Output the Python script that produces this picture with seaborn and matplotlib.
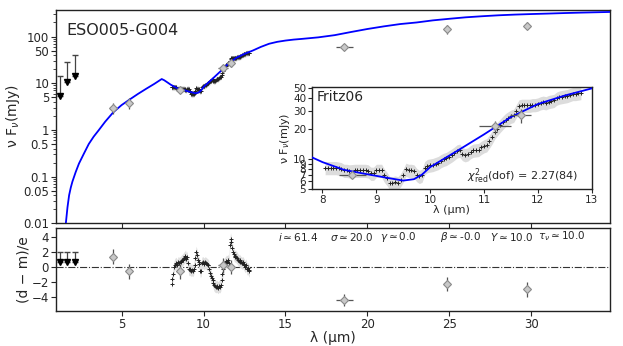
import seaborn as sns
import matplotlib.pyplot as plt
import matplotlib.ticker as mticker
import pandas as pd
import numpy as np

# --- model SED (blue curve) ---
model_lam = [1.6, 1.7, 1.8, 1.9, 2.0, 2.2, 2.4, 2.7, 3.0, 3.3, 3.6, 4.0, 4.5, 5.0, 5.5, 6.0,
             6.5, 7.0, 7.45, 7.6, 7.8, 8.0, 8.4, 8.8, 9.2, 9.5, 9.7, 9.85, 10.0, 10.5, 11.0,
             11.5, 12.0, 12.5, 13.0, 13.5, 14.0, 14.5, 15.0, 15.5, 16.0, 17.0, 18.0, 19.0,
             20.0, 21.0, 22.0, 23.0, 24.0, 25.0, 26.0, 27.0, 28.0, 29.0, 30.0, 31.0, 32.0,
             33.0, 34.8]
model_flux = [0.01, 0.022, 0.04, 0.058, 0.078, 0.125, 0.19, 0.31, 0.5, 0.72, 0.98, 1.5, 2.4,
              3.4, 4.5, 5.9, 7.6, 9.7, 12.3, 11.6, 10.4, 9.3, 7.8, 7.1, 6.5, 6.1, 6.3, 7.0,
              8.3, 12.0, 17.5, 26.0, 35.0, 42.5, 50.0, 60.0, 70.0, 77.0, 82.0, 86.0, 89.0,
              96.0, 107.0, 125.0, 145.0, 165.0, 185.0, 200.0, 222.0, 240.0, 258.0, 272.0,
              285.0, 295.0, 303.0, 310.0, 318.0, 325.0, 336.0]

# --- Fritz06 spectrum ---
spec_lam = [8.05, 8.10, 8.15, 8.20, 8.25, 8.30, 8.35, 8.40, 8.45, 8.50, 8.60, 8.65, 8.70, 8.75,
            8.80, 8.85, 8.90, 8.95, 9.00, 9.05, 9.10, 9.15, 9.20, 9.25, 9.30, 9.35, 9.40, 9.45,
            9.50, 9.55, 9.60, 9.65, 9.70, 9.75, 9.80, 9.85, 9.90, 9.95, 10.00, 10.05, 10.10,
            10.15, 10.20, 10.25, 10.30, 10.35, 10.40, 10.45, 10.50, 10.55, 10.60, 10.65, 10.70,
            10.75, 10.80, 10.85, 10.90, 10.95, 11.00, 11.05, 11.10, 11.15, 11.20, 11.25, 11.30,
            11.35, 11.40, 11.45, 11.50, 11.55, 11.60, 11.65, 11.70, 11.75, 11.80, 11.85, 11.90,
            11.95, 12.00, 12.05, 12.10, 12.15, 12.20, 12.25, 12.30, 12.35, 12.40, 12.45, 12.50,
            12.55, 12.60, 12.65, 12.70, 12.75, 12.80]
spec_flux = [8.2, 8.2, 8.2, 8.2, 8.2, 8.1, 8.0, 7.7, 7.7, 7.6, 7.7, 7.7, 7.7, 7.7,
             7.7, 7.6, 7.2, 7.2, 7.7, 7.7, 7.7, 6.9, 6.4, 5.8, 5.8, 5.9, 5.8, 6.2,
             6.9, 7.9, 7.7, 7.7, 7.6, 7.0, 6.7, 6.9, 8.2, 8.6, 8.7, 8.8, 9.0,
             9.2, 9.6, 9.9, 10.1, 10.5, 10.9, 11.4, 12.0, 12.2, 11.3, 11.0, 11.2,
             11.8, 12.2, 12.3, 12.4, 13.0, 13.5, 13.8, 15.0, 16.5, 18.5, 20.0, 21.5,
             23.0, 24.5, 25.5, 26.5, 27.0, 30.0, 33.5, 34.0, 34.0, 34.0, 34.0, 34.5,
             34.5, 35.0, 36.0, 36.5, 36.0, 37.0, 37.5, 38.0, 40.0, 41.0, 41.5, 42.0,
             42.5, 43.5, 44.5, 44.5, 45.0, 45.5]
spec_res = [-2.3, -1.6, -0.9, 0.0, 0.3, 0.5, 0.4, 0.2, 0.6, 0.5, 0.6, 0.8, 0.9, 1.0,
            1.2, 1.3, 1.5, 1.1, 1.3, 0.5, -0.3, -0.4, -0.3, -0.5, -0.4, -0.5, -0.3, 0.3,
            1.2, 2.0, 1.6, 1.0, 0.6, 0.4, -0.6, -0.5, 0.5, 0.6, 0.5, 0.4, 0.6,
            0.5, 0.4, 0.3, 0.2, -0.3, -0.8, -1.2, -1.5, -1.8, -2.2, -2.5, -2.6,
            -2.7, -2.6, -2.7, -2.8, -2.6, -2.7, -2.5, -1.8, -1.0, -0.3, 0.2, 0.5,
            0.6, 0.8, 0.7, 0.9, 0.5, 3.0, 3.8, 3.3, 2.6, 2.0, 1.7, 1.4,
            1.5, 1.3, 1.2, 1.0, 0.8, 0.9, 0.7, 0.6, 0.5, 0.6, 0.4, 0.2,
            0.0, 0.3, -0.3, -0.2, -0.4, -0.6]
spec_err_frac = 0.15
spec_res_err = 0.8

# --- photometry ---
phot_lam = [4.46, 5.47, 8.55, 11.2, 11.68, 18.6, 24.85, 29.75]
phot_flux = [3.0, 3.8, 7.0, 21.0, 27.0, 60.0, 143.0, 172.0]
phot_ferr = [0.8, 1.0, 0.4, 3.0, 4.5, 6.0, 30.0, 30.0]
phot_lerr = [0.0, 0.0, 0.25, 0.3, 0.2, 0.5, 0.0, 0.0]
phot_res = [1.4, -0.6, -0.6, 0.2, 0.0, -4.4, -2.3, -3.0]
phot_res_err = [1.0, 1.0, 1.0, 1.0, 1.0, 0.8, 1.0, 1.0]

# --- upper limits ---
lim_lam = [1.25, 1.65, 2.16]
lim_low = [5.3, 10.5, 14.6]
lim_high = [14.6, 28.5, 40.8]
lim_res_low = [0.7, 0.7, 0.7]
lim_res_high = [2.0, 2.0, 2.0]

# --- fit parameters ---
param_text = [r'$i\simeq61.4$', r'$\sigma\simeq20.0$', r'$\gamma\simeq0.0$',
              r'$\beta\simeq$-0.0', r'$Y\simeq10.0$', r'$\tau_\nu\simeq10.0$']
param_x = [14.55, 17.7, 20.75, 24.4, 27.5, 30.4]

model = pd.DataFrame({'lam': model_lam, 'flux': model_flux})
spec = pd.DataFrame({'lam': spec_lam, 'flux': spec_flux, 'res': spec_res})

sns.set_style('ticks')
plt.rcParams['font.family'] = ['DejaVu Sans']

fig = plt.figure(figsize=(6.23, 3.46), dpi=100)
ax = fig.add_axes([0.0899, 0.3546, 0.8892, 0.6165])
axr = fig.add_axes([0.0899, 0.102, 0.8892, 0.238])
axi = fig.add_axes([0.5003, 0.4529, 0.4494, 0.2965])

diamond = dict(fmt='D', ms=4.5, mfc='#c8c8c8', mec='#8a8a8a', mew=0.8,
               ecolor='#555555', elinewidth=0.9, capsize=0, zorder=5)


def draw_sed(a, ms):
    lam = np.array(spec_lam)
    fl = np.array(spec_flux)
    a.fill_between(lam, fl * (1 - spec_err_frac), fl * (1 + spec_err_frac),
                   color='#dcdcdc', lw=0, zorder=1)
    sns.scatterplot(data=spec, x='lam', y='flux', marker='+', color='#222222',
                    s=ms, linewidth=0.7, ax=a, zorder=3, legend=False)
    sns.lineplot(data=model, x='lam', y='flux', color='#0000ff', lw=1.3, ax=a,
                 zorder=4, legend=False)


# --- top panel ---
draw_sed(ax, 10)
ax.errorbar(phot_lam, phot_flux, yerr=phot_ferr, xerr=phot_lerr, **diamond)
ax.errorbar(lim_lam, lim_low,
            yerr=[np.zeros(3), np.array(lim_high) - np.array(lim_low)],
            fmt='v', color='k', ms=4.5, ecolor='#444444', elinewidth=0.9, capsize=2.5)
ax.set_yscale('log')
ax.set_xlim(1.0, 34.8)
ax.set_ylim(0.01, 370)
yt = [0.01, 0.05, 0.1, 0.5, 1, 5, 10, 50, 100]
ax.yaxis.set_major_locator(mticker.FixedLocator(yt))
ax.yaxis.set_major_formatter(mticker.FixedFormatter(['0.01', '0.05', '0.1', '0.5', '1', '5', '10', '50', '100']))
ax.yaxis.set_minor_locator(mticker.LogLocator(subs=np.arange(2, 10)))
ax.yaxis.set_minor_formatter(mticker.NullFormatter())
ax.set_xticks([5, 10, 15, 20, 25, 30])
ax.tick_params(axis='x', labelbottom=False)
ax.tick_params(axis='both', which='major', labelsize=8.5, length=3.5, pad=1.5, direction='out')
ax.tick_params(axis='y', which='minor', length=2.2, direction='out')
ax.set_xlabel('')
ax.set_ylabel(r'ν F$_{\nu}$(mJy)', fontsize=10, labelpad=1)
ax.text(0.019, 0.905, 'ESO005-G004', transform=ax.transAxes, fontsize=11.5,
        va='center', ha='left')

# --- inset ---
draw_sed(axi, 10)
axi.errorbar(phot_lam, phot_flux, yerr=phot_ferr, xerr=phot_lerr, **diamond)
axi.set_yscale('log')
axi.set_xlim(7.8, 13)
axi.set_ylim(5, 52)
it = [5, 6, 7, 8, 9, 10, 20, 30, 40, 50]
axi.yaxis.set_major_locator(mticker.FixedLocator(it))
axi.yaxis.set_major_formatter(mticker.FixedFormatter([str(v) for v in it]))
axi.yaxis.set_minor_locator(mticker.NullLocator())
axi.set_xticks([8, 9, 10, 11, 12, 13])
axi.tick_params(axis='both', labelsize=7.5, length=3, pad=1, direction='out')
axi.set_xlabel(r'λ (µm)', fontsize=8, labelpad=0)
axi.set_ylabel(r'ν F$_{\nu}$(mJy)', fontsize=8, labelpad=1)
axi.text(0.019, 0.9, 'Fritz06', transform=axi.transAxes, fontsize=10, va='center')
axi.text(0.952, 0.123, r'$\chi^2_{\rm red}$(dof) = 2.27(84)', transform=axi.transAxes,
         fontsize=8, ha='right', va='center')

# --- residual panel ---
axr.axhline(0, color='#333333', lw=0.8, ls='-.', zorder=1)
lam = np.array(spec_lam)
res = np.array(spec_res)
axr.fill_between(lam, res - spec_res_err, res + spec_res_err, color='#e0e0e0', lw=0, zorder=1)
sns.scatterplot(data=spec, x='lam', y='res', marker='+', color='#222222', s=10,
                linewidth=0.7, ax=axr, zorder=3, legend=False)
axr.errorbar(phot_lam, phot_res, yerr=phot_res_err, xerr=phot_lerr, **diamond)
axr.errorbar(lim_lam, lim_res_low,
             yerr=[np.zeros(3), np.array(lim_res_high) - np.array(lim_res_low)],
             fmt='v', color='k', ms=4.5, ecolor='#444444', elinewidth=0.9, capsize=2.5)
for t, xp in zip(param_text, param_x):
    axr.text(xp, 4.1, t, fontsize=7.5, ha='left', va='center')
axr.set_xlim(1.0, 34.8)
axr.set_ylim(-5.9, 5.2)
axr.set_yticks([-4, -2, 0, 2, 4])
axr.set_yticklabels(['−4', '−2', '0', '2', '4'])
axr.set_xticks([5, 10, 15, 20, 25, 30])
axr.tick_params(axis='both', labelsize=8.5, length=3.5, pad=1.5, direction='out')
axr.set_xlabel(r'λ (µm)', fontsize=10, labelpad=0)
axr.set_ylabel('(d − m)/e', fontsize=10, labelpad=1)

for a in [ax, axr, axi]:
    for s in a.spines.values():
        s.set_color('#222222')
        s.set_linewidth(1.0)

fig.savefig('out.png', dpi=100)
